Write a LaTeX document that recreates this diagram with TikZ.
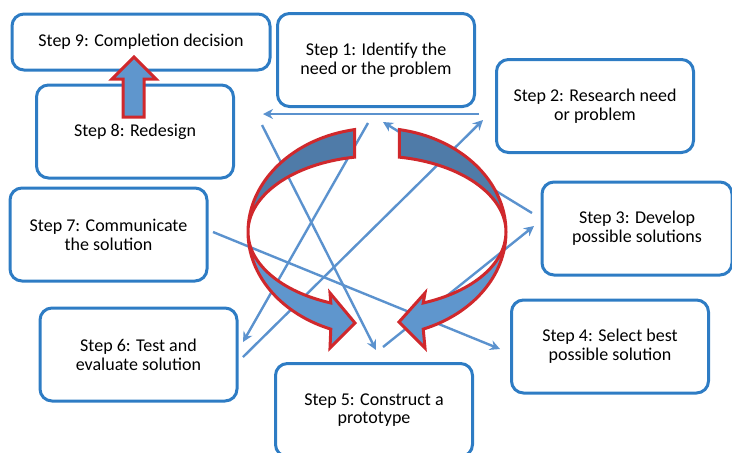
\documentclass[tikz,border=0pt]{standalone}
\usepackage{fontspec}
\setmainfont{Carlito}
\usetikzlibrary{arrows.meta, calc}

\definecolor{boxblue}{RGB}{46,124,196}
\definecolor{linkblue}{RGB}{91,146,206}
\definecolor{darkband}{RGB}{79,123,168}
\definecolor{lightband}{RGB}{95,150,205}
\definecolor{bandred}{RGB}{208,40,44}

\begin{document}
\begin{tikzpicture}[x=0.5pt, y=-0.5pt]
    \tikzstyle{every node} = [font=\fontsize{9}{9.4}\selectfont, align=center]
    \tikzstyle{stepbox} = [draw=boxblue, line width=1.5pt, rounded corners=6pt, minimum width=98.5pt, minimum height=46.5pt]
    \tikzstyle{link} = [draw=linkblue, line width=1.2pt, -{Stealth[length=5pt, width=5pt]}]
    \tikzstyle{band} = [draw=bandred, line width=1.5pt, line join=miter]
    \useasboundingbox (0,0) rectangle (732,452);

    % the nine steps
    \node (s9) [stepbox, minimum width=129pt, minimum height=28pt] at (141,42) {Step 9: Completion decision};
    \node (s1) [stepbox] at (376,60) {Step 1: Identify the\\need or the problem};
    \node (s2) [stepbox] at (595,106) {Step 2: Research need\\or problem};
    \node (s3) [stepbox, minimum width=95pt] at (637,228.5) {Step 3: Develop\\possible solutions};
    \node (s4) [stepbox] at (610,346.5) {Step 4: Select best\\possible solution};
    \node (s5) [stepbox] at (374,410) {Step 5: Construct a\\prototype};
    \node (s6) [stepbox] at (138.5,354.5) {Step 6: Test and\\evaluate solution};
    \node (s7) [stepbox] at (108.5,234.5) {Step 7: Communicate\\the solution};
    \node (s8) [stepbox] at (135,131.5) {Step 8: Redesign};

    % thin links crossing the middle
    \coordinate (a1) at (479,114);  \coordinate (b1) at (263,114);
    \coordinate (a2) at (262,125);  \coordinate (b2) at (376,350);
    \coordinate (a3) at (368,123);  \coordinate (b3) at (243,342);
    \coordinate (a4) at (243,357);  \coordinate (b4) at (483,120);
    \coordinate (a5) at (532,213);  \coordinate (b5) at (383,122);
    \coordinate (a6) at (213,232);  \coordinate (b6) at (500,349);
    \coordinate (a7) at (383,347);  \coordinate (b7) at (534,226);
    \foreach \i in {1,...,7}
      \draw [link] (a\i) -- (b\i);

    % the two curved block arrows
    \coordinate (ring) at (377,232);
    \filldraw [band, fill=darkband] (ring) ++(260:129 and 104)
      arc [start angle=260, end angle=180, x radius=129, y radius=104]
      arc [start angle=180, end angle=260, x radius=129, y radius=76] -- cycle;
    \filldraw [band, fill=lightband] (ring) ++(180:129 and 104)
      arc [start angle=180, end angle=111, x radius=129, y radius=104]
      -- (330,348) -- (355,323) -- (330,293) -- ($(ring)+(111:129 and 76)$)
      arc [start angle=111, end angle=180, x radius=129, y radius=76] -- cycle;
    \filldraw [band, fill=darkband] (ring) ++(280:129 and 104)
      arc [start angle=280, end angle=360, x radius=129, y radius=104]
      arc [start angle=360, end angle=280, x radius=129, y radius=76] -- cycle;
    \filldraw [band, fill=lightband] (ring) ++(0:129 and 104)
      arc [start angle=0, end angle=69, x radius=129, y radius=104]
      -- (425,348) -- (399,322) -- (425,293) -- ($(ring)+(69:129 and 76)$)
      arc [start angle=69, end angle=0, x radius=129, y radius=76] -- cycle;

    % redesign leads up to the decision
    \filldraw [band, fill=lightband] (123,117) -- (123,79) -- (112,79) -- (134,57)
      -- (156,79) -- (144,79) -- (144,117) -- cycle;
\end{tikzpicture}
\end{document}
